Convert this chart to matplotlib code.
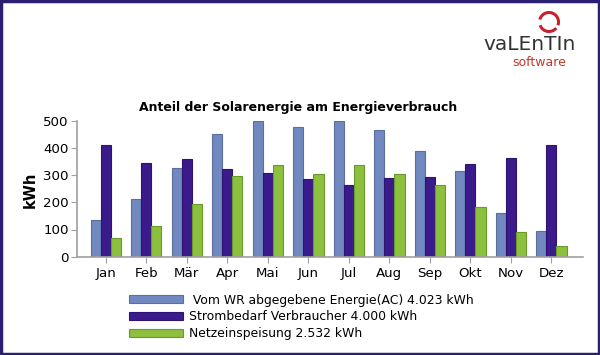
import numpy as np
import matplotlib
matplotlib.use("Agg")
import matplotlib.pyplot as plt
from matplotlib.patches import Arc, Rectangle

months = ["Jan", "Feb", "Mär", "Apr", "Mai", "Jun", "Jul", "Aug", "Sep", "Okt", "Nov", "Dez"]
energie_ac = [136, 211, 327, 452, 500, 475, 498, 466, 387, 315, 160, 96]
verbrauch = [409, 344, 358, 321, 307, 284, 265, 289, 294, 341, 364, 410]
einspeisung = [68, 113, 192, 295, 336, 303, 336, 303, 263, 184, 90, 41]

series_labels = [
    " Vom WR abgegebene Energie(AC) 4.023 kWh",
    "Strombedarf Verbraucher 4.000 kWh",
    "Netzeinspeisung 2.532 kWh",
]

blue = "#7189c0"
purple = "#3b1a8c"
green = "#8cc03e"
navy = "#2b1f72"

fig = plt.figure(figsize=(6, 3.55), dpi=100)
ax = fig.add_axes([77 / 600, 1 - 256.7 / 355, 506 / 600, 136 / 355])

x = np.arange(len(months))
w = 0.25
b1 = ax.bar(x - w, energie_ac, w, color=blue, edgecolor="#5b6e9c", linewidth=0.8)
b2 = ax.bar(x, verbrauch, w, color=purple, edgecolor="#2e1470", linewidth=0.8)
b3 = ax.bar(x + w, einspeisung, w, color=green, edgecolor="#6a9a2a", linewidth=0.8)

ax.set_ylim(0, 500)
ax.set_xlim(-0.71, 11.78)
ax.set_yticks([0, 100, 200, 300, 400, 500])
ax.set_xticks(x)
ax.set_xticklabels(months)

for s in ["top", "right"]:
    ax.spines[s].set_visible(False)
for s in ["left", "bottom"]:
    ax.spines[s].set_color("#a0a0a0")
    ax.spines[s].set_linewidth(1.2)
ax.tick_params(colors="#a0a0a0", labelcolor="black", labelsize=9.6, length=4)
ax.tick_params(axis="y", pad=2)

fig.text(30 / 600, 1 - 190 / 355, "kWh", rotation=90, ha="center", va="center",
         fontsize=10.5, weight="bold")

fig.text(0.497, 1 - 107 / 355, "Anteil der Solarenergie am Energieverbrauch",
         ha="center", va="center", fontsize=9, weight="bold")

fig.legend([b1, b2, b3], series_labels, loc="upper left",
           bbox_to_anchor=(120 / 600, 1 - 285 / 355), frameon=False,
           fontsize=8.9, handlelength=4.4, handleheight=0.65, labelspacing=0.3,
           handletextpad=0.45, borderpad=0.2)

# logo
fig.text(530 / 600, 1 - 45 / 355, "vaLEnTIn", ha="center", va="center",
         fontsize=14.5, color="#333333", family="DejaVu Sans")
fig.text(539 / 600, 1 - 62 / 355, "software", ha="center", va="center",
         fontsize=9, color="#c0392b", family="DejaVu Sans")
lax = fig.add_axes([536 / 600, 1 - 35 / 355, 26 / 600, 26 / 355])
lax.set_xlim(-1.3, 1.3)
lax.set_ylim(-1.3, 1.3)
lax.set_aspect("equal")
lax.axis("off")
lax.add_patch(Arc((0, 0), 1.9, 1.9, theta1=-20, theta2=165, color="#c8202f", lw=2.2))
lax.add_patch(Arc((0, 0), 1.9, 1.9, theta1=200, theta2=320, color="#c8202f", lw=2.2))

# border frame
fig.patches.append(Rectangle((0.002, 0.003), 0.996, 0.994, transform=fig.transFigure,
                             fill=False, edgecolor=navy, linewidth=2.5))

fig.savefig("out.png", dpi=100)
